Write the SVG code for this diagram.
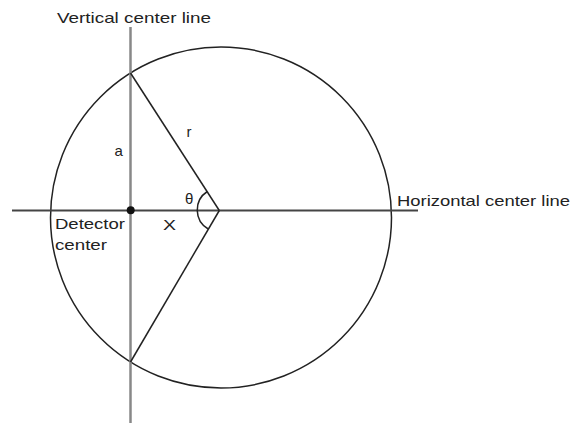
<svg xmlns="http://www.w3.org/2000/svg" width="571" height="423" viewBox="0 0 571 423">
<style>
.t{font-family:"Liberation Sans",Arial,sans-serif;font-size:15px;fill:#222}
.thin{fill:none;stroke:#222;stroke-width:1.5}
</style>
<rect width="571" height="423" fill="#fff"/>
<g id="circle"><circle class="thin" cx="221" cy="217.5" r="170.5"/></g>
<g id="connectors">
<line x1="130.5" y1="27" x2="130.5" y2="423" stroke="#888" stroke-width="2.5"/>
<line x1="12" y1="210.5" x2="418" y2="210.5" stroke="#444" stroke-width="2"/>
<line class="thin" x1="219.3" y1="210.5" x2="130.5" y2="73"/>
<line class="thin" x1="219.3" y1="210.5" x2="130.5" y2="362"/>
<path class="thin" d="M207.3 191.5 A22 22 0 0 0 208.2 229"/>
</g>
<g id="detector"><circle cx="130.7" cy="210.3" r="4" fill="#111"/></g>
<g id="labels">
<text class="t" x="57" y="23" textLength="154" lengthAdjust="spacingAndGlyphs">Vertical center line</text>
<text class="t" x="397" y="206" textLength="173" lengthAdjust="spacingAndGlyphs">Horizontal center line</text>
<text class="t" x="55" y="229" textLength="70" lengthAdjust="spacingAndGlyphs">Detector</text>
<text class="t" x="55" y="250" textLength="52" lengthAdjust="spacingAndGlyphs">center</text>
<text class="t" x="114.5" y="156">a</text>
<text class="t" x="186.5" y="137">r</text>
<text class="t" x="185" y="204">θ</text>
<text class="t" x="163" y="230" textLength="13" lengthAdjust="spacingAndGlyphs">X</text>
</g>
</svg>
